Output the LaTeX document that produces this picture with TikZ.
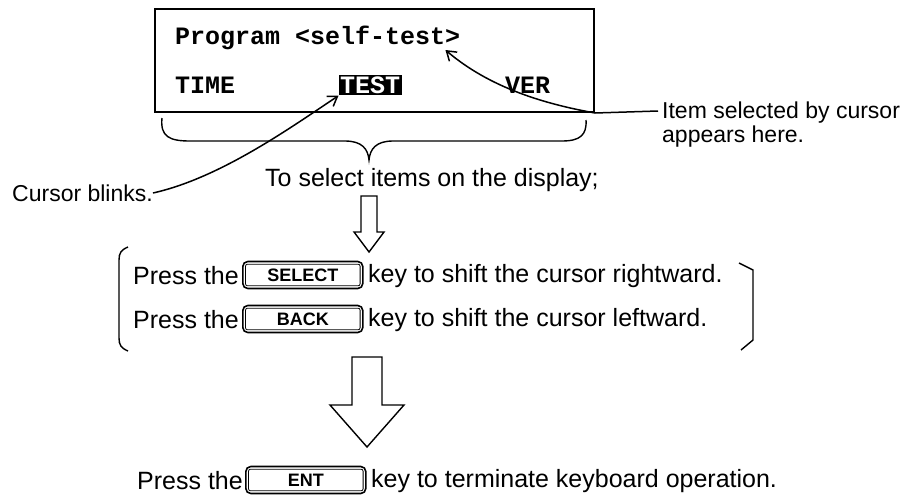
\documentclass[tikz,border=0pt]{standalone}
\usepackage{fontspec}
\setmainfont{Liberation Sans}
\newfontfamily\monofont{Liberation Mono}
\usetikzlibrary{arrows.meta,calc}
\begin{document}
\begin{tikzpicture}[x=1pt,y=-1pt,
  main/.style={font=\fontsize{25}{30}\selectfont, inner sep=0pt, anchor=west},
  lab/.style={font=\fontsize{23}{24}\selectfont, inner sep=0pt},
  disp/.style={font=\monofont\bfseries\fontsize{25}{30}\selectfont, inner sep=0pt, anchor=west},
  keyout/.style={draw, line width=1.6pt, rounded corners=5pt, minimum width=120pt, minimum height=27pt, inner sep=0pt, anchor=west, font=\bfseries\fontsize{18}{20}\selectfont},
  keyin/.style={line width=0.8pt, rounded corners=2pt},
  thin/.style={line width=1.4pt},
  ptr/.style={line width=1.5pt, -{Straight Barb[length=9pt,width=12pt,line width=1.5pt]}},
  hollow/.style={line width=1.4pt, line join=miter},
]
\useasboundingbox (0,0) rectangle (902,498);

% display
\node[draw, line width=2pt, minimum width=439pt, minimum height=103pt, anchor=north west, inner sep=0pt] (disp) at (154,8) {};
\node[disp] (prog) at (175,38) {Program <self-test>};
\node[disp] (time) at (175,85) {TIME};
\node[disp, fill=black, text=white, inner xsep=1.5pt, inner ysep=2pt] (test) at (338.5,85) {TEST};
\node[disp] (ver) at (505,85) {VER};

% labels
\node[lab, anchor=north west, align=left] (item) at (662,102) {Item selected by cursor\\appears here.};
\node[lab, anchor=west] (cb) at (12,193) {Cursor blinks.};
\coordinate (itemtail) at ($(item.north west)+(-4,9)$);
\coordinate (gt) at ($(prog.east)+(-15,12)$);
\draw[ptr] (itemtail) -- (disp.south east) .. controls (545,104) and (490,88) .. (gt);
\draw[ptr] (cb.east) .. controls (220,178) and (290,128) .. (test.south west);

% brace
\coordinate (brL) at (162,118);
\coordinate (brT) at (369,160);
\coordinate (brR) at (586,120);
\draw[thin] (brL) .. controls (160,137) and (170,141) .. (190,141) -- (345,141)
  .. controls (362,141) and (368,149) .. (brT)
  .. controls (370,149) and (376,141) .. (393,141) -- (562,141)
  .. controls (580,141) and (587,135) .. (brR);
\node[main] (sel) at (265,180) {To select items on the display;};

% small hollow arrow
\draw[hollow] (361,196) -- (361,232) -- (354,232) -- (369,252) -- (384,232) -- (377,232) -- (377,196) -- cycle;

% brackets
\draw[thin] (128,247) .. controls (121,250) and (119,253) .. (119,260) -- (119,338) .. controls (119,345) and (121,348) .. (128,351);
\draw[thin] (739,263) -- (753,270) -- (753,340) -- (741,350);

% SELECT row
\node[main] (p1) at (133,276) {Press the};
\node[keyout] (k1) at (242,275) {SELECT};
\draw[keyin] ($(k1.north west)+(3.5,3.5)$) rectangle ($(k1.south east)+(-3.5,-3.5)$);
\node[main] (t1) at (368,276) {key to shift the cursor rightward.};

% BACK row
\node[main] (p2) at (133,320) {Press the};
\node[keyout] (k2) at (242,319) {BACK};
\draw[keyin] ($(k2.north west)+(3.5,3.5)$) rectangle ($(k2.south east)+(-3.5,-3.5)$);
\node[main] (t2) at (368,320) {key to shift the cursor leftward.};

% big hollow arrow
\draw[hollow] (352,357) -- (352,405) -- (330,405) -- (367,447) -- (404,405) -- (382,405) -- (382,357) -- cycle;

% ENT row
\node[main] (p3) at (137,481) {Press the};
\node[keyout] (k3) at (245,480) {ENT};
\draw[keyin] ($(k3.north west)+(3.5,3.5)$) rectangle ($(k3.south east)+(-3.5,-3.5)$);
\node[main] (t3) at (371,481) {key to terminate keyboard operation.};
\end{tikzpicture}
\end{document}
